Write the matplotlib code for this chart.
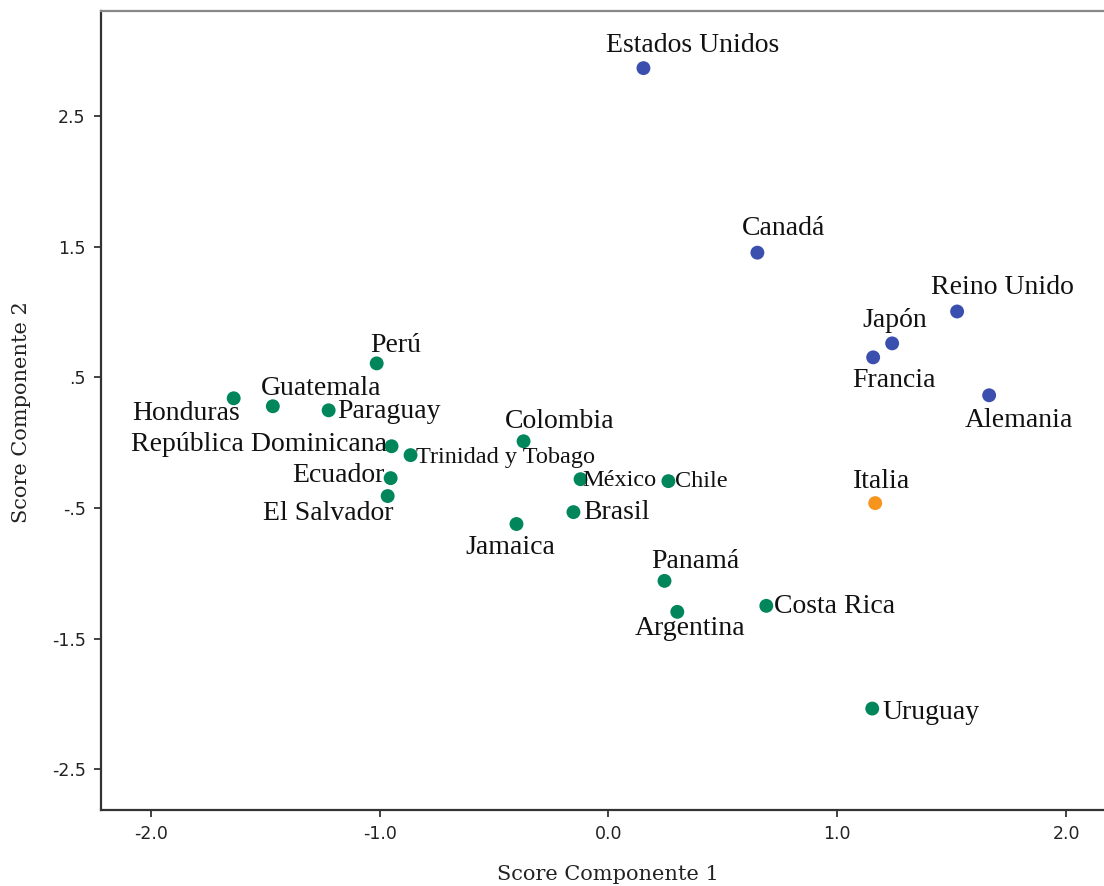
import matplotlib
matplotlib.use("Agg")
import matplotlib.pyplot as plt

# ---- data ----
countries = ["Estados Unidos", "Canadá", "Reino Unido", "Japón", "Francia", "Alemania",
             "Italia", "Perú", "Honduras", "Guatemala", "Paraguay", "República Dominicana",
             "Trinidad y Tobago", "Colombia", "Ecuador", "El Salvador", "México", "Chile",
             "Brasil", "Jamaica", "Panamá", "Argentina", "Costa Rica", "Uruguay"]
score1 = [0.153, 0.651, 1.524, 1.240, 1.157, 1.664,
          1.166, -1.013, -1.638, -1.467, -1.223, -0.948,
          -0.865, -0.371, -0.952, -0.965, -0.122, 0.262,
          -0.153, -0.402, 0.245, 0.301, 0.690, 1.153]
score2 = [2.866, 1.454, 1.004, 0.760, 0.653, 0.363,
          -0.462, 0.607, 0.340, 0.279, 0.248, -0.027,
          -0.095, 0.011, -0.271, -0.408, -0.279, -0.294,
          -0.531, -0.622, -1.057, -1.294, -1.248, -2.034]
group = ["A", "A", "A", "A", "A", "A",
         "B", "C", "C", "C", "C", "C",
         "C", "C", "C", "C", "C", "C",
         "C", "C", "C", "C", "C", "C"]
x_ticks = [-2.0, -1.0, 0.0, 1.0, 2.0]
x_ticklabels = ["-2.0", "-1.0", "0.0", "1.0", "2.0"]
y_ticks = [2.5, 1.5, 0.5, -0.5, -1.5, -2.5]
y_ticklabels = ["2.5", "1.5", ".5", "-.5", "-1.5", "-2.5"]

# ---- styling ----
colors = {"A": "#3a4fae", "B": "#f7941d", "C": "#00865a"}
# label placement: (dx px, dy px, ha, small font?)
label_pos = {
    "Estados Unidos": (49, 23, "center", False),
    "Canadá": (26, 24, "center", False),
    "Reino Unido": (45, 24, "center", False),
    "Japón": (3, 23, "center", False),
    "Francia": (21, -23, "center", False),
    "Alemania": (30, -25, "center", False),
    "Italia": (6, 22, "center", False),
    "Perú": (19, 18, "center", False),
    "Honduras": (-48, -15, "center", False),
    "Guatemala": (48, 18, "center", False),
    "Paraguay": (9, -1, "left", False),
    "República Dominicana": (-5, 2, "right", False),
    "Trinidad y Tobago": (5, -2, "left", True),
    "Colombia": (36, 20, "center", False),
    "Ecuador": (-6, 3, "right", False),
    "El Salvador": (6, -17, "right", False),
    "México": (2, -1, "left", True),
    "Chile": (7, 0, "left", True),
    "Brasil": (10, 0, "left", False),
    "Jamaica": (-6, -23, "center", False),
    "Panamá": (31, 19, "center", False),
    "Argentina": (13, -17, "center", False),
    "Costa Rica": (8, -1, "left", False),
    "Uruguay": (10, -4, "left", False),
}

W, H = 1104, 886
fig = plt.figure(figsize=(W / 100, H / 100), dpi=100)
ax = fig.add_axes([101 / W, 1 - 810 / H, (W - 101) / W, (810 - 11) / H])
ax.set_xlim(-2.218, 2.166)
ax.set_ylim(-2.81, 3.303)

for c, x, y, g in zip(countries, score1, score2, group):
    ax.scatter([x], [y], s=100, color=colors[g], edgecolors="none", zorder=3)
    dx, dy, ha, small = label_pos[c]
    ax.annotate(c, (x, y), xytext=(dx, dy), textcoords="offset pixels",
                ha=ha, va="center", family="Liberation Serif",
                fontsize=17.5 if small else 20, color="#111111", zorder=4)

ax.set_xticks(x_ticks)
ax.set_xticklabels(x_ticklabels)
ax.set_yticks(y_ticks)
ax.set_yticklabels(y_ticklabels)
ax.tick_params(direction="out", length=5, width=1.2, colors="#222222",
               labelsize=12.5, pad=6)
for lab in ax.get_xticklabels() + ax.get_yticklabels():
    lab.set_family("DejaVu Sans")

for s in ["left", "bottom", "top"]:
    ax.spines[s].set_linewidth(1.6)
    ax.spines[s].set_color("#333333")
ax.spines["top"].set_color("#888888")
ax.spines["right"].set_visible(False)

fig.text(608 / W, 1 - 875 / H, "Score Componente 1", ha="center", va="center",
         family="DejaVu Serif", fontsize=15, color="#222222")
fig.text(22 / W, 1 - 412 / H, "Score Componente 2", ha="center", va="center",
         rotation=90, family="DejaVu Serif", fontsize=15, color="#222222")

fig.savefig("out.png", dpi=100)
